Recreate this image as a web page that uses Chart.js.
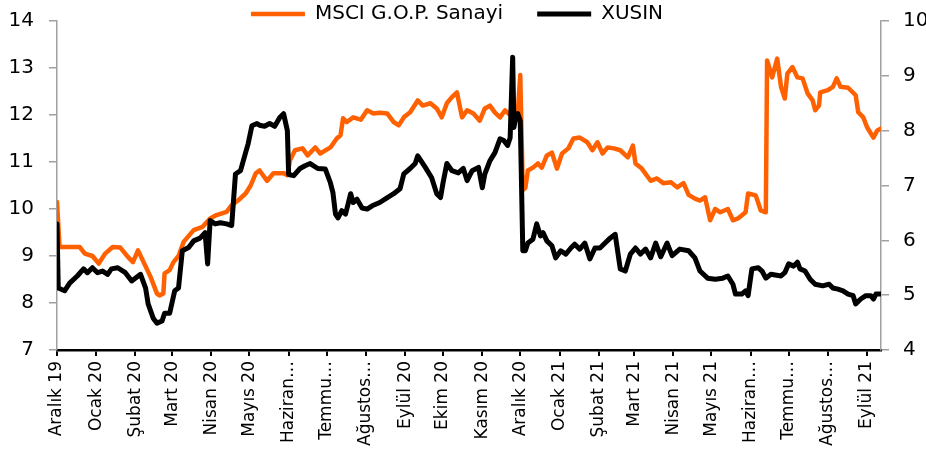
<!DOCTYPE html>
<html>
<head>
<meta charset="utf-8">
<script src="https://cdn.jsdelivr.net/npm/chart.js@4/dist/chart.umd.min.js"></script>
<style>
  html, body { margin: 0; padding: 0; background: #fff; }
  #wrap { width: 926px; height: 450px; }
</style>
</head>
<body>
<div id="wrap"><canvas id="grafik" width="926" height="450"></canvas></div>
<script>
// x = days since 1 Dec 2019
const monthStarts = [0, 31, 62, 91, 122, 152, 183, 213, 244, 275, 305, 336, 366, 397, 428, 456, 487, 517, 548, 578, 609, 640];
const monthLabels = ["Aralık 19", "Ocak 20", "Şubat 20", "Mart 20", "Nisan 20", "Mayıs 20", "Haziran…", "Temmu…", "Ağustos…", "Eylül 20", "Ekim 20", "Kasım 20", "Aralık 20", "Ocak 21", "Şubat 21", "Mart 21", "Nisan 21", "Mayıs 21", "Haziran…", "Temmu…", "Ağustos…", "Eylül 21"];

// MSCI G.O.P. Sanayi (left axis)
const gopDays = [0, 2, 18, 22, 28, 33, 38, 44, 50, 56, 60, 64, 67, 74, 79, 81, 84, 85, 89, 92, 96, 100, 108, 115, 121, 126, 134, 138, 143, 149, 153, 157, 160, 166, 171, 179, 182, 184, 188, 194, 198, 204, 208, 216, 221, 224, 226, 229, 234, 240, 245, 250, 255, 261, 266, 270, 274, 279, 285, 289, 295, 300, 304, 308, 312, 316, 320, 324, 329, 334, 338, 342, 346, 350, 354, 358, 364, 366, 368, 370, 372, 376, 380, 383, 387, 391, 395, 399, 404, 408, 413, 419, 423, 427, 431, 435, 440, 445, 451, 455, 457, 462, 469, 474, 479, 485, 490, 495, 499, 504, 508, 512, 516, 520, 524, 530, 534, 538, 544, 546, 552, 556, 560, 561, 565, 569, 572, 575, 577, 581, 585, 589, 593, 597, 599, 602, 603, 609, 613, 616, 619, 625, 628, 631, 633, 637, 640, 645, 648, 651];
const gopValues = [10.15, 9.19, 9.19, 9.05, 9.0, 8.84, 9.05, 9.19, 9.18, 8.98, 8.87, 9.12, 8.95, 8.55, 8.2, 8.16, 8.2, 8.63, 8.7, 8.87, 9.0, 9.3, 9.55, 9.62, 9.8, 9.87, 9.94, 10.08, 10.18, 10.33, 10.5, 10.76, 10.82, 10.6, 10.76, 10.76, 10.72, 11.03, 11.25, 11.29, 11.14, 11.31, 11.18, 11.31, 11.5, 11.57, 11.93, 11.85, 11.95, 11.9, 12.1, 12.03, 12.05, 12.03, 11.85, 11.78, 11.95, 12.06, 12.31, 12.2, 12.25, 12.14, 11.95, 12.25, 12.38, 12.48, 11.95, 12.1, 12.03, 11.88, 12.14, 12.2, 12.05, 11.95, 12.1, 12.0, 12.05, 12.85, 10.4, 10.45, 10.82, 10.88, 10.97, 10.88, 11.14, 11.2, 10.86, 11.18, 11.29, 11.5, 11.52, 11.42, 11.25, 11.42, 11.18, 11.31, 11.29, 11.25, 11.1, 11.35, 10.97, 10.86, 10.6, 10.65, 10.55, 10.57, 10.46, 10.55, 10.3, 10.22, 10.18, 10.25, 9.76, 10.0, 9.93, 10.0, 9.76, 9.8, 9.93, 10.33, 10.29, 9.97, 9.93, 13.16, 12.8, 13.2, 12.6, 12.35, 12.88, 13.02, 12.8, 12.78, 12.46, 12.31, 12.1, 12.2, 12.48, 12.53, 12.6, 12.78, 12.6, 12.58, 12.5, 12.42, 12.06, 11.95, 11.74, 11.52, 11.67, 11.71];

// XUSIN (right axis)
const xusinDays = [0, 1, 6, 10, 16, 21, 24, 28, 32, 36, 40, 43, 48, 54, 59, 66, 70, 72, 76, 79, 83, 85, 89, 93, 96, 99, 104, 108, 113, 117, 119, 121, 125, 129, 134, 138, 141, 145, 149, 151, 154, 158, 160, 164, 168, 172, 176, 179, 182, 183, 187, 192, 196, 200, 206, 212, 216, 218, 220, 222, 225, 228, 232, 234, 237, 241, 245, 249, 255, 261, 266, 271, 274, 279, 283, 285, 291, 296, 300, 303, 305, 308, 312, 317, 321, 324, 328, 333, 336, 338, 342, 346, 350, 353, 356, 358, 360, 361, 362, 364, 366, 368, 370, 372, 376, 379, 382, 384, 387, 391, 394, 398, 402, 406, 409, 413, 417, 421, 425, 429, 433, 437, 441, 445, 449, 453, 457, 461, 465, 469, 473, 477, 482, 486, 492, 499, 504, 508, 514, 520, 526, 530, 534, 536, 541, 544, 546, 549, 554, 557, 560, 564, 572, 575, 578, 582, 585, 587, 591, 595, 599, 605, 610, 613, 617, 621, 625, 629, 631, 635, 639, 643, 645, 647, 651];
const xusinValues = [6.3, 5.13, 5.08, 5.22, 5.35, 5.48, 5.41, 5.5, 5.41, 5.44, 5.38, 5.48, 5.5, 5.41, 5.26, 5.38, 5.13, 4.84, 4.58, 4.49, 4.53, 4.67, 4.67, 5.08, 5.13, 5.81, 5.87, 5.99, 6.04, 6.14, 5.57, 6.36, 6.3, 6.32, 6.3, 6.27, 7.21, 7.27, 7.6, 7.76, 8.09, 8.13, 8.1, 8.08, 8.13, 8.08, 8.24, 8.31, 8.0, 7.2, 7.18, 7.31, 7.36, 7.4, 7.31, 7.3, 7.05, 6.87, 6.48, 6.41, 6.54, 6.48, 6.85, 6.69, 6.75, 6.59, 6.57, 6.63, 6.69, 6.78, 6.85, 6.94, 7.21, 7.31, 7.4, 7.54, 7.33, 7.14, 6.85, 6.78, 7.05, 7.4, 7.27, 7.23, 7.31, 7.09, 7.27, 7.33, 6.96, 7.21, 7.45, 7.6, 7.85, 7.82, 7.73, 7.87, 9.34, 8.06, 8.18, 8.31, 8.18, 5.81, 5.81, 5.95, 6.02, 6.3, 6.08, 6.14, 5.99, 5.9, 5.68, 5.81, 5.75, 5.86, 5.93, 5.84, 5.95, 5.66, 5.86, 5.86, 5.95, 6.04, 6.11, 5.48, 5.44, 5.75, 5.86, 5.75, 5.84, 5.68, 5.95, 5.7, 5.95, 5.72, 5.84, 5.81, 5.68, 5.44, 5.31, 5.29, 5.31, 5.35, 5.2, 5.02, 5.02, 5.08, 4.99, 5.48, 5.5, 5.44, 5.31, 5.38, 5.35, 5.41, 5.57, 5.53, 5.6, 5.48, 5.44, 5.29, 5.2, 5.17, 5.2, 5.13, 5.11, 5.08, 5.02, 4.99, 4.84, 4.93, 4.99, 4.99, 4.93, 5.02, 5.02];

const toPoints = (xs, ys) => xs.map((x, i) => ({ x: x, y: ys[i] }));

Chart.defaults.font.family = "'DejaVu Sans', sans-serif";
Chart.defaults.color = "#000";

const legendPad = 34;

// short legend strip; items pulled back up so the wide padding only spaces them sideways
const legendFix = {
  id: "legendFix",
  beforeInit(chart) {
    const fit = chart.legend.fit;
    chart.legend.fit = function () {
      fit.bind(chart.legend)();
      this.height = 21;
    };
  },
  afterLayout(chart) {
    const lg = chart.legend;
    lg.top -= legendPad - 4;
    lg.bottom += 15; // legend clips to its own box
    lg.left -= 6;
    lg.right -= 6;
  },
};

// y axes: no extra room above/below for the end labels
const noEndPadding = (scale, width) => {
  scale.width = width;
  scale.paddingTop = 0;
  scale.paddingBottom = 0;
};

const ctx = document.getElementById("grafik").getContext("2d");

const chart = new Chart(ctx, {
  type: "line",
  data: {
    datasets: [
      {
        label: "MSCI G.O.P. Sanayi",
        data: toPoints(gopDays, gopValues),
        yAxisID: "y",
        borderColor: "#ff6100",
        backgroundColor: "#ff6100",
        borderWidth: 4.5,
        pointRadius: 0,
        tension: 0,
        borderJoinStyle: "round",
        borderCapStyle: "round",
        order: 1,
      },
      {
        label: "XUSIN",
        data: toPoints(xusinDays, xusinValues),
        yAxisID: "y2",
        borderColor: "#000000",
        backgroundColor: "#000000",
        borderWidth: 5,
        pointRadius: 0,
        tension: 0,
        borderJoinStyle: "round",
        borderCapStyle: "round",
        order: 0,
      },
    ],
  },
  options: {
    responsive: false,
    animation: false,
    layout: { padding: 0 },
    plugins: {
      tooltip: { enabled: false },
      legend: {
        position: "top",
        labels: {
          usePointStyle: true,
          pointStyle: "line",
          pointStyleWidth: 54,
          padding: legendPad,
          font: { size: 20 },
          sort: (a, b) => a.datasetIndex - b.datasetIndex,
        },
      },
    },
    scales: {
      x: {
        type: "linear",
        min: 0,
        max: 651,
        afterBuildTicks: (scale) => {
          scale.ticks = monthStarts.map((v) => ({ value: v }));
        },
        afterFit: (scale) => {
          scale.height = 100;
        },
        ticks: {
          autoSkip: false,
          minRotation: 90,
          maxRotation: 90,
          padding: 5,
          font: { size: 17 },
          callback: (value, index) => monthLabels[index],
        },
        grid: {
          drawOnChartArea: false,
          color: "#000",
          lineWidth: 2,
          tickLength: 6,
        },
        border: { color: "#000", width: 2.5 },
      },
      y: {
        position: "left",
        min: 7,
        max: 14,
        afterFit: (scale) => noEndPadding(scale, 57),
        ticks: { stepSize: 1, padding: 15, font: { size: 20 } },
        grid: { drawOnChartArea: false, color: "#a0a0a0", lineWidth: 1.5, tickLength: 8 },
        border: { color: "#a0a0a0", width: 1.5 },
      },
      y2: {
        position: "right",
        min: 4,
        max: 10,
        afterFit: (scale) => noEndPadding(scale, 45),
        ticks: { stepSize: 1, padding: 14, font: { size: 20 } },
        grid: { drawOnChartArea: false, color: "#a0a0a0", lineWidth: 1.5, tickLength: 8 },
        border: { color: "#a0a0a0", width: 1.5 },
      },
    },
  },
  plugins: [legendFix],
});
</script>
</body>
</html>
